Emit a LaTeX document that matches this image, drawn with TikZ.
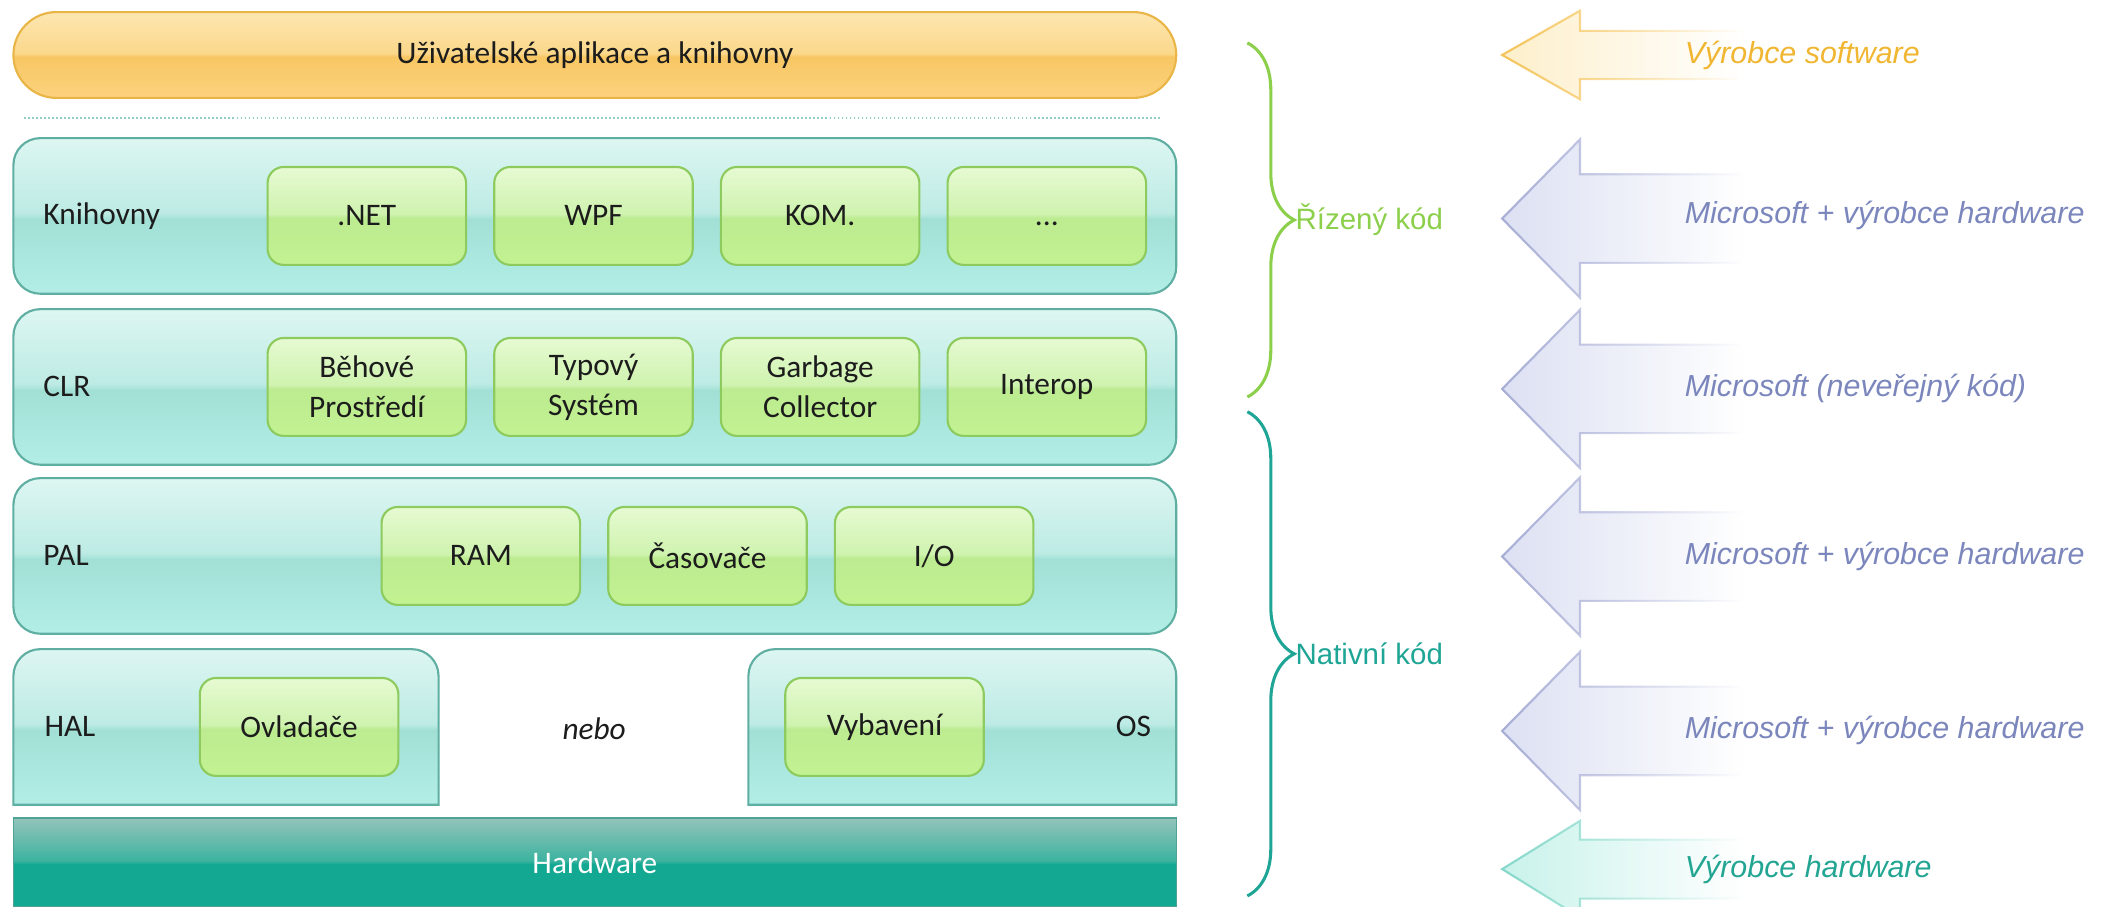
\documentclass[tikz,border=0pt]{standalone}
\usepackage{fontspec}
\setmainfont{Carlito}
\newfontfamily\arialfont{Liberation Sans}
\usetikzlibrary{decorations.pathreplacing,fadings}

\definecolor{txt}{HTML}{1C1C1C}
\definecolor{tierTop}{HTML}{DDF6F2}
\definecolor{tierMid}{HTML}{BDEBE4}
\definecolor{tierBand}{HTML}{A2E0D6}
\definecolor{tierBot}{HTML}{B2EEE6}
\definecolor{tierLine}{HTML}{5FAEA2}
\definecolor{partTop}{HTML}{E6FAD2}
\definecolor{partMid}{HTML}{CFF3AF}
\definecolor{partBand}{HTML}{BCEB91}
\definecolor{partBot}{HTML}{C3F292}
\definecolor{partLine}{HTML}{8ECB5E}
\definecolor{appTop}{HTML}{FDE6B2}
\definecolor{appMid}{HTML}{FBD88A}
\definecolor{appBand}{HTML}{F8C764}
\definecolor{appBot}{HTML}{FBD27E}
\definecolor{appLine}{HTML}{E9B547}
\definecolor{hwTop}{HTML}{93C3BA}
\definecolor{hwMid}{HTML}{3DB3A0}
\definecolor{hwBot}{HTML}{12A892}
\definecolor{hwLine}{HTML}{4FA396}
\definecolor{sepLine}{HTML}{8FCFC4}
\definecolor{manGreen}{HTML}{8CCF4B}
\definecolor{natTeal}{HTML}{1FA595}
\definecolor{swLine}{HTML}{F5C45A}
\definecolor{swFill}{HTML}{FDEFCB}
\definecolor{swText}{HTML}{F0B632}
\definecolor{msLine}{HTML}{A7ADD5}
\definecolor{msFill}{HTML}{DCE0F2}
\definecolor{msText}{HTML}{7B86BC}
\definecolor{hwArLine}{HTML}{85D8CA}
\definecolor{hwArFill}{HTML}{C8F2EA}
\definecolor{hwText}{HTML}{22A592}

\pgfdeclareverticalshading{tiershade}{100bp}{color(0bp)=(tierBot); color(25bp)=(tierBot); color(49bp)=(tierBand); color(51bp)=(tierMid); color(75bp)=(tierTop); color(100bp)=(tierTop)}
\pgfdeclareverticalshading{partshade}{100bp}{color(0bp)=(partBot); color(25bp)=(partBot); color(49bp)=(partBand); color(51bp)=(partMid); color(75bp)=(partTop); color(100bp)=(partTop)}
\pgfdeclareverticalshading{appshade}{100bp}{color(0bp)=(appBot); color(25bp)=(appBot); color(49bp)=(appBand); color(51bp)=(appMid); color(75bp)=(appTop); color(100bp)=(appTop)}
\pgfdeclareverticalshading{hwshade}{100bp}{color(0bp)=(hwBot); color(25bp)=(hwBot); color(49bp)=(hwBot); color(51bp)=(hwMid); color(75bp)=(hwTop); color(100bp)=(hwTop)}

\begin{document}
\begin{tikzpicture}[font=\fontsize{13.3}{17}\selectfont, node distance=3.38cm]
\useasboundingbox (0,0) rectangle (31.36,-13.52);

% Styles
\tikzstyle{appbar} = [draw=appLine, line width=0.9pt, rounded corners=0.64cm, shade, shading=appshade, minimum width=17.34cm, minimum height=1.28cm, text=txt]
\tikzstyle{tierbox} = [draw=tierLine, line width=0.9pt, rounded corners=0.4cm, shade, shading=tiershade, minimum width=17.34cm, minimum height=2.32cm]
\tikzstyle{partbox} = [draw=partLine, line width=0.9pt, rounded corners=0.24cm, shade, shading=partshade, minimum width=2.96cm, minimum height=1.46cm, align=center, text=txt]
\tikzstyle{hwbar} = [draw=hwLine, line width=0.6pt, shade, shading=hwshade, minimum width=17.34cm, minimum height=1.32cm, text=white]
\tikzstyle{tierlabel} = [anchor=west, text=txt]
\tikzstyle{owner} = [anchor=west, font=\arialfont\itshape\fontsize{12.9}{15}\selectfont]
\tikzstyle{bigarrow} = [line width=0.9pt, path fading=east]
\tikzstyle{bracket} = [line width=1.3pt, decorate, decoration={brace, amplitude=0.7cm}]

% Applications
\node[appbar] (apps) at (8.87,-0.82) {Uživatelské aplikace a knihovny};
\coordinate (sepL) at (0.36,-1.76);
\coordinate (sepR) at (17.3,-1.76);
\draw[sepLine, densely dotted, line width=0.7pt] (sepL) -- (sepR);

% Layers
\node[tierbox] (libs) at (8.87,-3.22) {};
\node[tierbox] (clr) at (8.87,-5.77) {};
\node[tierbox] (pal) at (8.87,-8.29) {};
\shade[shading=tiershade, draw=tierLine, line width=0.9pt] (0.2,-12.0) -- (0.2,-10.08) arc(180:90:0.4) -- (6.14,-9.68) arc(90:0:0.4) -- (6.54,-12.0) -- cycle;
\shade[shading=tiershade, draw=tierLine, line width=0.9pt] (11.16,-12.0) -- (11.16,-10.08) arc(180:90:0.4) -- (17.14,-9.68) arc(90:0:0.4) -- (17.54,-12.0) -- cycle;
\node[hwbar] (hw) at (8.87,-12.86) {Hardware};

\node[tierlabel, xshift=0.34cm] (libsL) at (libs.west) {Knihovny};
\node[tierlabel, xshift=0.34cm] (clrL) at (clr.west) {CLR};
\node[tierlabel, xshift=0.34cm] (palL) at (pal.west) {PAL};
\node[tierlabel] (halL) at (0.54,-10.84) {HAL};
\node[text=txt] (osL) at (16.9,-10.84) {OS};
\node[text=txt] (nebo) at (8.86,-10.86) {\itshape nebo};

% Parts
\node[partbox] (net) at (5.47,-3.22) {.NET};
\node[partbox, right of=net] (wpf) {WPF};
\node[partbox, right of=wpf] (kom) {KOM.};
\node[partbox, right of=kom] (more) {\vphantom{N}...};

\node[partbox] (runtime) at (5.47,-5.77) {Běhové\\Prostředí};
\node[partbox, right of=runtime] (types) {Typový\\Systém};
\node[partbox, right of=types] (gc) {Garbage\\Collector};
\node[partbox, right of=gc] (interop) {Interop};

\node[partbox] (ram) at (7.17,-8.29) {RAM};
\node[partbox, right of=ram] (timers) {Časovače};
\node[partbox, right of=timers] (io) {I/O};

\node[partbox] (drivers) at (4.46,-10.84) {Ovladače};
\node[partbox] (equip) at (13.19,-10.84) {Vybavení};

% Braces
\coordinate (manTop) at (18.6,-0.64);
\coordinate (manBot) at (18.6,-5.92);
\coordinate (natTop) at (18.6,-6.14);
\coordinate (natBot) at (18.6,-13.36);
\draw[bracket, manGreen] (manTop) -- node[midway, anchor=west, xshift=0.58cm, font=\arialfont\fontsize{12.5}{15}\selectfont] (managed) {Řízený kód} (manBot);
\draw[bracket, natTeal] (natTop) -- node[midway, anchor=west, xshift=0.58cm, font=\arialfont\fontsize{12.5}{15}\selectfont] (native) {Nativní kód} (natBot);

% Arrows
\draw[bigarrow, draw=swLine, fill=swFill] (22.4,-0.82) -- (23.56,-0.16) -- (23.56,-0.46) -- (26,-0.46) -- (26,-1.18) -- (23.56,-1.18) -- (23.56,-1.48) -- cycle;
\draw[bigarrow, draw=msLine, fill=msFill] (22.4,-3.26) -- (23.56,-2.08) -- (23.56,-2.6) -- (26,-2.6) -- (26,-3.92) -- (23.56,-3.92) -- (23.56,-4.44) -- cycle;
\draw[bigarrow, draw=msLine, fill=msFill] (22.4,-5.8) -- (23.56,-4.62) -- (23.56,-5.14) -- (26,-5.14) -- (26,-6.46) -- (23.56,-6.46) -- (23.56,-6.98) -- cycle;
\draw[bigarrow, draw=msLine, fill=msFill] (22.4,-8.3) -- (23.56,-7.12) -- (23.56,-7.64) -- (26,-7.64) -- (26,-8.96) -- (23.56,-8.96) -- (23.56,-9.48) -- cycle;
\draw[bigarrow, draw=msLine, fill=msFill] (22.4,-10.9) -- (23.56,-9.72) -- (23.56,-10.24) -- (26,-10.24) -- (26,-11.56) -- (23.56,-11.56) -- (23.56,-12.08) -- cycle;
\draw[bigarrow, draw=hwArLine, fill=hwArFill] (22.4,-12.96) -- (23.56,-12.24) -- (23.56,-12.52) -- (26,-12.52) -- (26,-13.4) -- (23.56,-13.4) -- (23.56,-13.68) -- cycle;

\node[owner, text=swText] (sw) at (25,-0.82) {Výrobce software};
\node[owner, text=msText] (msA) at (25,-3.22) {Microsoft + výrobce hardware};
\node[owner, text=msText] (msB) at (25,-5.8) {Microsoft (neveřejný kód)};
\node[owner, text=msText] (msC) at (25,-8.3) {Microsoft + výrobce hardware};
\node[owner, text=msText] (msD) at (25,-10.9) {Microsoft + výrobce hardware};
\node[owner, text=hwText] (hwMaker) at (25,-12.96) {Výrobce hardware};

\end{tikzpicture}
\end{document}
